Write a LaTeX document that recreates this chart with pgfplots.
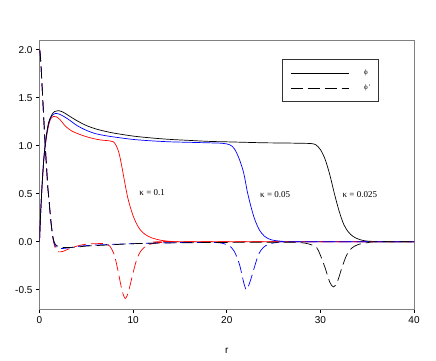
\documentclass[border=0pt]{standalone}
\usepackage{fontspec}
\setmainfont{Liberation Sans}
\newfontfamily\serif{Liberation Serif}
\usepackage{pgfplots}
\pgfplotsset{compat=1.18}

\begin{document}
\begin{tikzpicture}[x=1pt,y=1pt]
\useasboundingbox (0,0) rectangle (436,360);
\begin{axis}[
  at={(39.5pt,51pt)}, anchor=south west,
  width=374.5pt, height=269pt, scale only axis,
  xmin=0, xmax=40, ymin=-0.7, ymax=2.1,
  xtick={0,10,20,30,40}, ytick={-0.5,0,0.5,1,1.5,2},
  yticklabel style={/pgf/number format/.cd, fixed, fixed zerofill, precision=1},
  /pgf/number format/assume math mode=true,
  tick label style={font=\fontsize{10}{12}\selectfont},
  tick align=outside, major tick length=3.5pt,
  xtick pos=bottom, ytick pos=left,
  tick style={black, line width=0.6pt},
  axis line style={line width=0.8pt},
  x axis line style={gray},
  xlabel={r},
  xlabel style={at={(axis description cs:0.5,0)}, anchor=base, yshift=-44pt, font=\fontsize{10}{12}\selectfont},
  legend style={at={(0.905,0.928)}, anchor=north east, draw=black!80, line width=0.6pt,
    inner xsep=8pt, inner ysep=6pt, row sep=0pt,
    font=\serif\fontsize{7}{8}\selectfont,
    nodes={inner sep=0pt, minimum height=15pt}, cells={anchor=west}},
  legend image code/.code={\draw[#1] (0pt,0pt) -- (58pt,0pt); \path (73pt,0pt);},
  every axis plot/.append style={line width=0.7pt},
]
\addlegendimage{black, solid, line width=0.7pt}
\addlegendentry{ϕ}
\addlegendimage{black, dash pattern=on 12pt off 5pt, line width=0.7pt}
\addlegendentry{ϕ\,'}

% phi, kappa = 0.1
\addplot[red, smooth] coordinates {
 (0,0) (0.1,0.25) (0.2,0.45) (0.3,0.62) (0.45,0.84) (0.6,0.99) (0.8,1.12)
 (1.0,1.22) (1.2,1.28) (1.5,1.305) (1.8,1.30) (2.2,1.27) (2.8,1.20) (3.5,1.15)
 (4.5,1.11) (5.5,1.08) (6.5,1.06) (7.5,1.05) (7.9,1.04) (8.2,1.0) (8.5,0.92)
 (8.8,0.78) (9.1,0.62) (9.4,0.47) (9.7,0.36) (10.0,0.27) (10.4,0.18) (10.8,0.12)
 (11.3,0.075) (12,0.04) (13,0.015) (14,0.004) (15,0) (40,0)};
% phi, kappa = 0.05
\addplot[blue, smooth] coordinates {
 (0,0) (0.1,0.25) (0.2,0.45) (0.3,0.63) (0.45,0.85) (0.6,1.0) (0.8,1.14)
 (1.0,1.24) (1.3,1.31) (1.7,1.335) (2.2,1.325) (3,1.28) (4,1.21) (5,1.16)
 (6,1.125) (7,1.105) (8,1.09) (10,1.065) (12,1.05) (14,1.04) (16,1.035)
 (18,1.03) (19.5,1.025) (20.3,1.01) (20.8,0.97) (21.3,0.87) (21.8,0.72)
 (22.2,0.52) (22.6,0.36) (23,0.23) (23.5,0.12) (24,0.06) (24.5,0.03)
 (25,0.015) (26,0.004) (27,0) (40,0)};
% phi, kappa = 0.025
\addplot[black, smooth] coordinates {
 (0,0) (0.1,0.25) (0.2,0.45) (0.3,0.63) (0.45,0.85) (0.6,1.0) (0.8,1.15)
 (1.0,1.25) (1.3,1.32) (1.6,1.355) (2.0,1.365) (2.5,1.35) (3,1.32) (4,1.26)
 (5,1.21) (6,1.175) (7,1.15) (8,1.13) (10,1.10) (12,1.08) (14,1.065)
 (16,1.055) (18,1.045) (20,1.04) (22,1.035) (24,1.03) (26,1.028) (28,1.025)
 (29,1.022) (29.5,1.01) (30,0.96) (30.5,0.86) (31,0.70) (31.5,0.50)
 (32,0.32) (32.5,0.18) (33,0.10) (33.5,0.055) (34,0.03) (34.5,0.015)
 (35,0.007) (36,0.002) (37,0) (40,0)};

% phi', kappa = 0.1
\addplot[red, smooth, dash pattern=on 12pt off 5pt] coordinates {
 (0,2.0) (0.05,1.98) (0.15,1.85) (0.25,1.67) (0.35,1.48) (0.5,1.2) (0.6,1.02)
 (0.75,0.78) (0.9,0.55) (1.0,0.45) (1.2,0.23) (1.37,0.08) (1.5,0.0)
 (1.7,-0.07) (2.0,-0.105) (2.5,-0.1) (3,-0.08) (4,-0.045) (5,-0.025)
 (6,-0.02) (7,-0.02) (7.5,-0.045) (8.0,-0.14) (8.4,-0.31) (8.8,-0.5)
 (9.15,-0.59) (9.5,-0.52) (10.0,-0.32) (10.4,-0.18) (10.8,-0.1)
 (11.3,-0.05) (12,-0.02) (13,-0.007) (14,0) (40,0)};
% phi', kappa = 0.05
\addplot[blue, smooth, dash pattern=on 12pt off 5pt] coordinates {
 (0,2.0) (0.05,1.98) (0.15,1.85) (0.25,1.67) (0.35,1.48) (0.5,1.2) (0.6,1.02)
 (0.75,0.78) (0.9,0.55) (1.0,0.45) (1.2,0.23) (1.37,0.09) (1.5,0.01)
 (1.7,-0.045) (2.1,-0.07) (3,-0.065) (4,-0.05) (5,-0.04) (7,-0.03)
 (10,-0.02) (14,-0.01) (18,-0.007) (19.5,-0.015) (20.5,-0.06) (21,-0.14)
 (21.4,-0.25) (21.8,-0.42) (22.1,-0.5) (22.4,-0.44) (22.7,-0.35)
 (23.0,-0.25) (23.4,-0.13) (23.9,-0.06) (24.5,-0.025) (25.5,-0.005)
 (27,0) (40,0)};
% phi', kappa = 0.025
\addplot[black, smooth, dash pattern=on 12pt off 5pt] coordinates {
 (0,2.0) (0.05,1.98) (0.15,1.85) (0.25,1.67) (0.35,1.48) (0.5,1.2) (0.6,1.02)
 (0.75,0.78) (0.9,0.55) (1.0,0.45) (1.2,0.23) (1.37,0.09) (1.5,0.02)
 (1.7,-0.03) (2.0,-0.05) (2.5,-0.06) (3,-0.06) (4,-0.055) (5,-0.045)
 (6,-0.04) (8,-0.03) (10,-0.02) (14,-0.012) (20,-0.007) (26,-0.005)
 (28,-0.01) (29,-0.03) (29.6,-0.06) (30,-0.14) (30.5,-0.27) (31,-0.42)
 (31.4,-0.47) (31.8,-0.42) (32.3,-0.27) (32.8,-0.14) (33.3,-0.07)
 (34,-0.03) (35,-0.01) (36,0) (40,0)};

\node[anchor=west, font=\serif\fontsize{9}{10}\selectfont] at (axis cs:10.3,0.51) {κ = 0.1};
\node[anchor=west, font=\serif\fontsize{9}{10}\selectfont] at (axis cs:23.2,0.49) {κ = 0.05};
\node[anchor=west, font=\serif\fontsize{9}{10}\selectfont] at (axis cs:32.0,0.49) {κ = 0.025};
\end{axis}
\end{tikzpicture}
\end{document}
